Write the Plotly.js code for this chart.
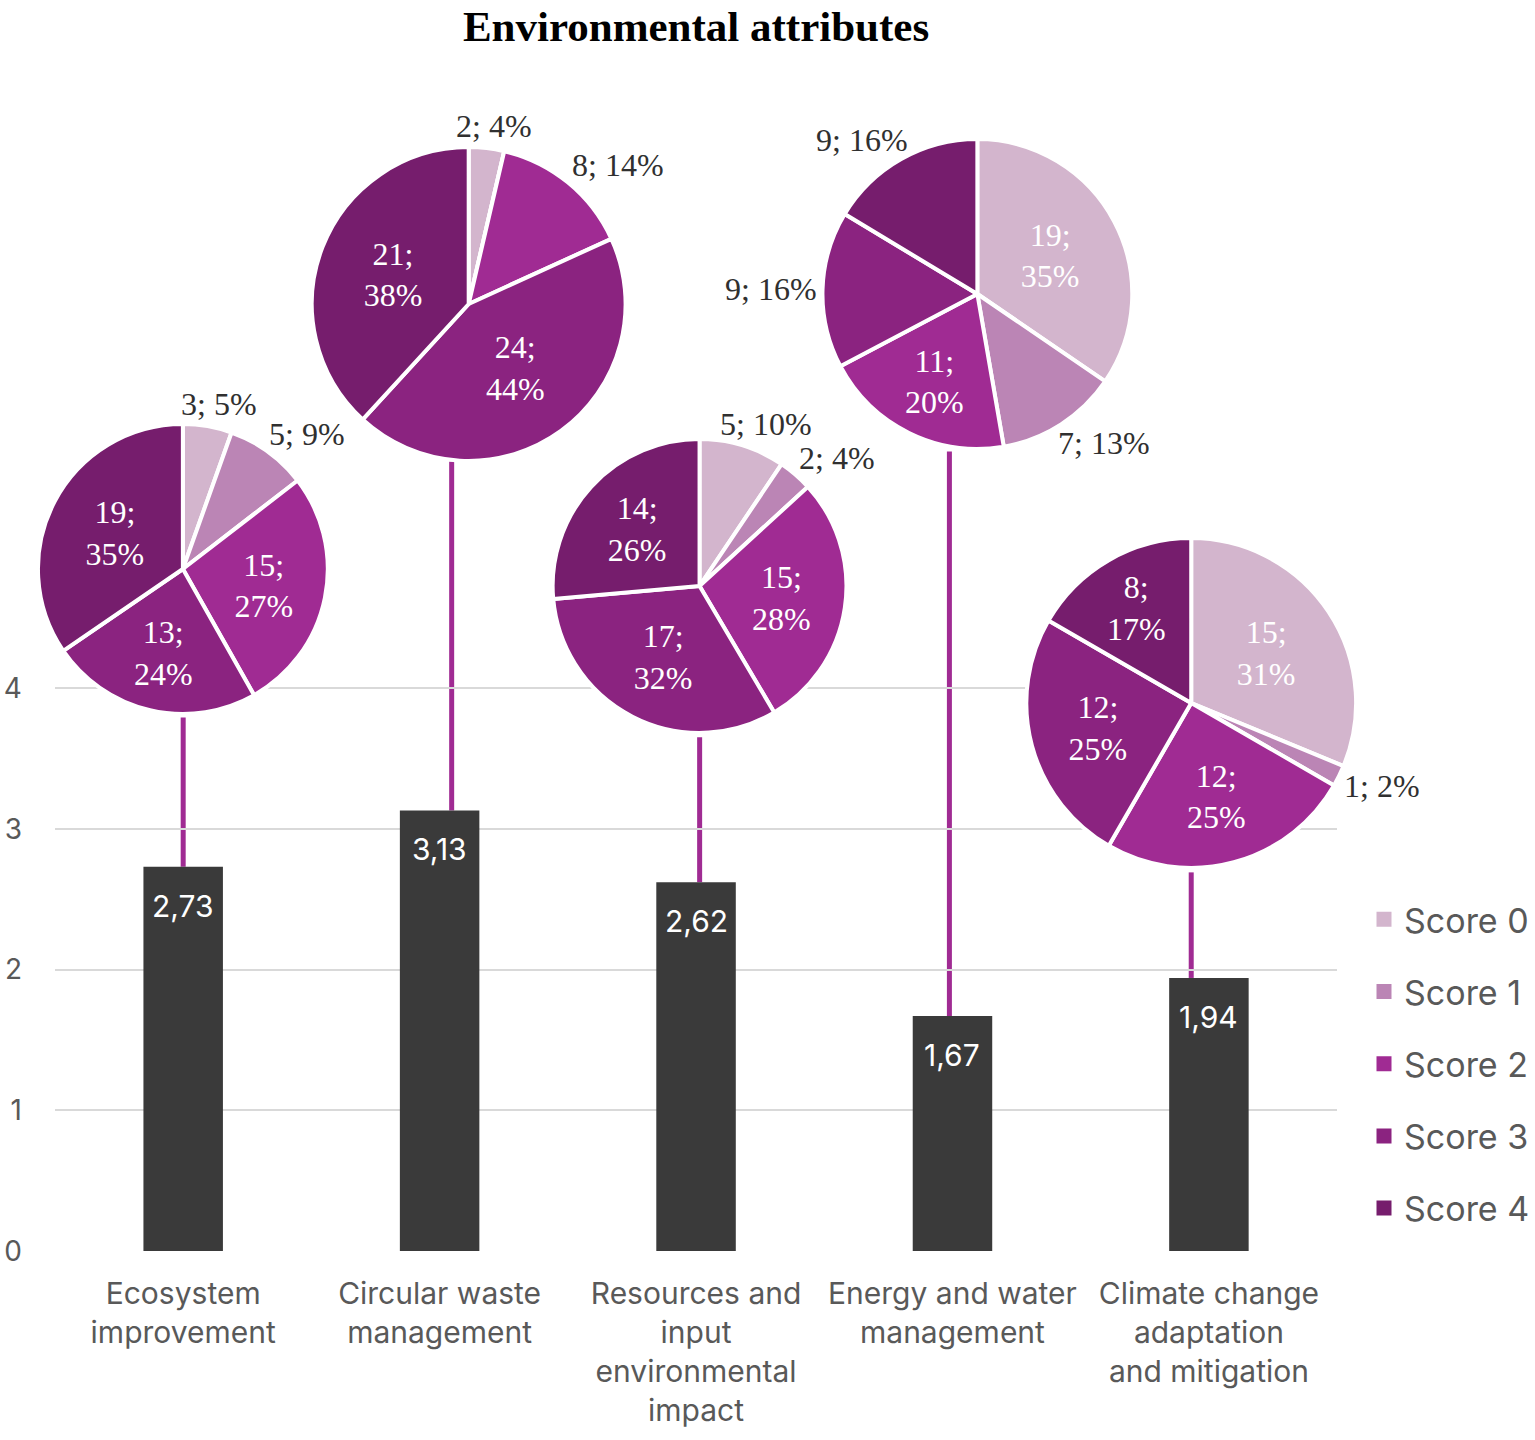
<!DOCTYPE html>
<html>
<head>
<meta charset="utf-8">
<script src="https://cdn.plot.ly/plotly-3.0.1.min.js"></script>
<style>
  body { margin: 0; background: #fff; }
  #chart { width: 1535px; height: 1440px; }
</style>
</head>
<body>
<div id="chart"></div>
<script>
// data
var categories = ['Ecosystem<br>improvement', 'Circular waste<br>management',
  'Resources and<br>input<br>environmental<br>impact', 'Energy and water<br>management',
  'Climate change<br>adaptation<br>and mitigation'];
var meanScores = [2.73, 3.13, 2.62, 1.67, 1.94];
var scoreLabels = ['Score 0', 'Score 1', 'Score 2', 'Score 3', 'Score 4'];

var countsEcosystem = [3, 5, 15, 13, 19];
var countsWaste     = [2, 0, 8, 24, 21];
var countsResources = [5, 2, 15, 17, 14];
var countsEnergy    = [19, 7, 11, 9, 9];
var countsClimate   = [15, 1, 12, 12, 8];

var pctEcosystem = [5, 9, 27, 24, 35];
var pctWaste     = [4, 0, 14, 44, 38];
var pctResources = [10, 4, 28, 32, 26];
var pctEnergy    = [35, 13, 20, 16, 16];
var pctClimate   = [31, 2, 25, 25, 17];

var scoreColors = ['#d3b5cd', '#bb85b5', '#a02b93', '#8b2380', '#761d6d'];
var connectorColor = '#a02b93';

// page geometry (pixels)
var W = 1535, H = 1440;
var M = {l: 0, r: 0, t: 0, b: 189};
var plotH = H - M.t - M.b;
var axisLeft = 55, axisRight = 1338;

// pie placement (pixel centre / radius) and which labels sit inside
var pies = [
  {counts: countsEcosystem, pct: pctEcosystem, cx: 183, cy: 569, r: 143,
   inside: [0, 0, 1, 1, 1]},
  {counts: countsWaste, pct: pctWaste, cx: 469, cy: 304, r: 155,
   inside: [0, 0, 0, 1, 1]},
  {counts: countsResources, pct: pctResources, cx: 700, cy: 586, r: 145,
   inside: [0, 0, 1, 1, 1]},
  {counts: countsEnergy, pct: pctEnergy, cx: 978, cy: 294, r: 153,
   inside: [1, 0, 1, 0, 0]},
  {counts: countsClimate, pct: pctClimate, cx: 1192, cy: 703, r: 163,
   inside: [1, 0, 1, 1, 1]}
];
// connector: horizontal offset from bar centre (category units), top end (y units)
var connOffset = [0, 0.047, 0.014, -0.012, -0.069];
var connTop = [3.79, 5.61, 3.65, 5.68, 2.69];

var yMax = plotH / 140.75;
var pieFont = 32;

function textWidth(s) {
  var w = 0;
  for (var k = 0; k < s.length; k++) {
    var c = s[k];
    w += c === ';' ? 0.28 : c === ' ' ? 0.25 : c === '%' ? 0.83 : 0.5;
  }
  return w * pieFont;
}

var data = [];
data.push({
  type: 'bar', x: categories, y: meanScores, width: 0.31,
  marker: {color: '#3a3a3a'}, showlegend: false, hoverinfo: 'skip'
});

var annotations = [];

pies.forEach(function (p) {
  var total = p.counts.reduce(function (a, b) { return a + b; }, 0);
  var text = p.counts.map(function (v, i) {
    return (v && p.inside[i]) ? v + ';<br>' + p.pct[i] + '%' : '';
  });
  var pos = p.inside.map(function (f) { return f ? 'inside' : 'none'; });
  var rr = p.r + 2;
  data.push({
    type: 'pie', labels: scoreLabels, values: p.counts, text: text,
    textinfo: 'text', textposition: pos, insidetextorientation: 'horizontal',
    sort: false, direction: 'clockwise', rotation: 0,
    marker: {colors: scoreColors, line: {color: '#ffffff', width: 4}},
    textfont: {family: 'Liberation Serif', size: pieFont, color: '#ffffff'},
    showlegend: false, hoverinfo: 'skip',
    domain: {
      x: [(p.cx - rr) / W, (p.cx + rr) / W],
      y: [(plotH - p.cy - rr) / plotH, (plotH - p.cy + rr) / plotH]
    }
  });

  // outside labels next to their slice
  var cum = 0;
  p.counts.forEach(function (v, i) {
    var mid = (cum + v / 2) / total * 2 * Math.PI;
    cum += v;
    if (!v || p.inside[i]) return;
    var s = Math.sin(mid), c = Math.cos(mid);
    var label = v + '; ' + p.pct[i] + '%';
    var w = textWidth(label);
    var px = p.cx + (p.r + 8) * s;
    var py = p.cy - (p.r + 8) * c;
    var k = Math.max(-1, Math.min(1, s * 1.6));
    px += k * w / 2;
    py -= c * 16;
    annotations.push({
      x: px / W, y: (plotH - py) / plotH, xref: 'paper', yref: 'paper',
      xanchor: 'center', yanchor: 'middle', showarrow: false, text: label,
      font: {family: 'Liberation Serif', size: pieFont, color: '#303030'}
    });
  });
});

// legend entries
scoreLabels.forEach(function (lab, i) {
  data.push({
    type: 'scatter', mode: 'markers', x: [null], y: [null], name: lab,
    legendgroup: lab, marker: {symbol: 'square', size: 15, color: scoreColors[i]}
  });
});

var shapes = meanScores.map(function (v, i) {
  return {
    type: 'line', xref: 'x', yref: 'y', layer: 'below',
    x0: i + connOffset[i], x1: i + connOffset[i], y0: v, y1: connTop[i],
    line: {color: connectorColor, width: 5}
  };
});

meanScores.forEach(function (v, i) {
  annotations.push({
    x: categories[i], y: v, xref: 'x', yref: 'y', showarrow: false,
    text: v.toFixed(2).replace('.', ','), yanchor: 'middle', yshift: -39,
    font: {family: 'Inter', size: 30, color: '#ffffff'}
  });
});

var layout = {
  width: W, height: H, margin: M,
  paper_bgcolor: '#ffffff', plot_bgcolor: 'rgba(0,0,0,0)',
  title: {
    text: '<b>Environmental attributes</b>',
    x: (axisLeft + axisRight) / 2 / W, xref: 'paper', xanchor: 'center',
    y: 1 - 26 / H, yref: 'container', yanchor: 'middle',
    font: {family: 'Liberation Serif', size: 43, color: '#000000'}
  },
  xaxis: {
    type: 'category', range: [-0.5, 4.5], domain: [axisLeft / W, axisRight / W],
    showgrid: false, zeroline: false, showline: false, ticks: '',
    ticklabelstandoff: 22,
    tickfont: {family: 'Inter', size: 30, color: '#595959'}
  },
  yaxis: {
    range: [0, yMax], tickmode: 'array', tickvals: [0, 1, 2, 3, 4],
    showgrid: true, gridcolor: '#d9d9d9', gridwidth: 2, zeroline: false,
    showline: false, ticks: '', ticklabelstandoff: 32,
    tickfont: {family: 'Inter', size: 28, color: '#595959'}
  },
  shapes: shapes,
  annotations: annotations,
  showlegend: true,
  legend: {
    x: 1365 / W, xanchor: 'left', y: 0.288, yanchor: 'top',
    tracegroupgap: 25, traceorder: 'grouped',
    font: {family: 'Inter', size: 34, color: '#595959'},
    bgcolor: 'rgba(0,0,0,0)'
  }
};

Plotly.newPlot('chart', data, layout, {staticPlot: true});
</script>
</body>
</html>
